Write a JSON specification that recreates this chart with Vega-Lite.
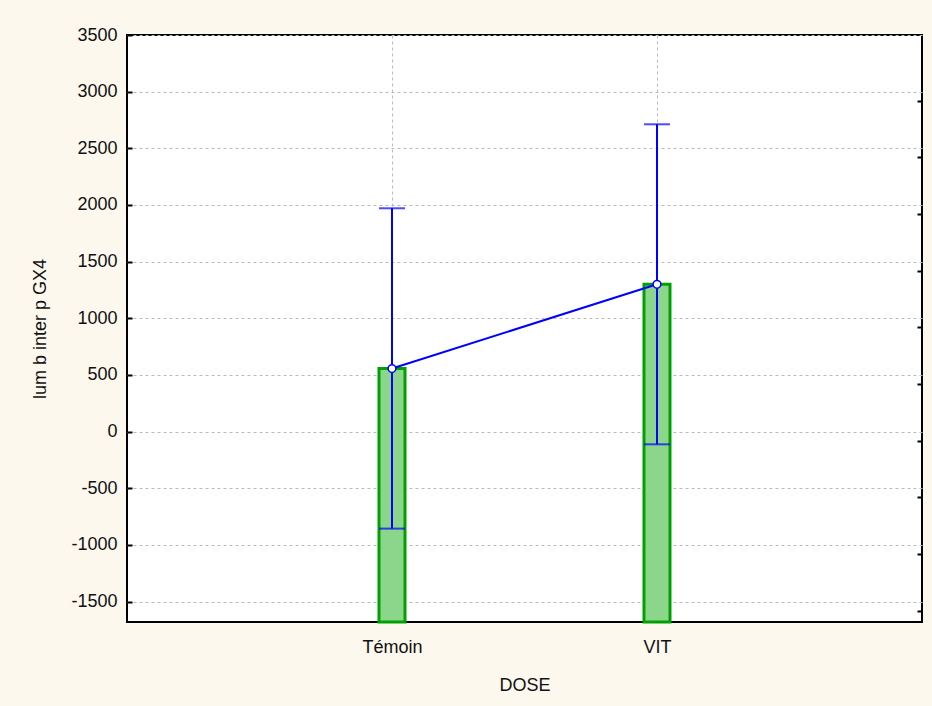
{
  "$schema": "https://vega.github.io/schema/vega-lite/v6.json",
  "width": 795,
  "height": 587,
  "autosize": {"type": "none"},
  "padding": {"left": 127, "top": 35, "right": 10, "bottom": 84},
  "background": "#FDF8EE",
  "config": {
    "view": {"stroke": "#000000", "strokeWidth": 2, "fill": "#FFFFFF"},
    "font": "Liberation Sans",
    "axis": {"labelFont": "Liberation Sans", "titleFont": "Liberation Sans", "labelColor": "#111111", "titleColor": "#111111", "titleFontWeight": "normal", "labelFontSize": 18, "titleFontSize": 18}
  },
  "data": {"values": [
    {"DOSE": "Témoin", "mean": 557, "lo": -856, "hi": 1971},
    {"DOSE": "VIT", "mean": 1300, "lo": -112, "hi": 2712}
  ]},
  "resolve": {"axis": {"y": "independent"}},
  "encoding": {
    "x": {"field": "DOSE", "type": "nominal", "sort": ["Témoin", "VIT"],
      "scale": {"type": "point", "padding": 1},
      "axis": {"title": "DOSE", "labelAngle": 0, "tickSize": -5, "tickColor": "#000000", "tickWidth": 1.5, "domain": false, "labelPadding": 21, "titlePadding": 20,
        "grid": true, "gridColor": "#BBBBBB", "gridDash": [3, 3], "gridWidth": 1}}
  },
  "layer": [
    {
      "mark": {"type": "bar", "width": 26, "fill": "#8CD68C", "stroke": "#00A000", "strokeWidth": 3},
      "encoding": {
        "y": {"field": "mean", "type": "quantitative",
          "scale": {"domain": [-1680, 3500], "nice": false, "zero": false},
          "axis": {"title": "lum b inter p GX4", "values": [-1500, -1000, -500, 0, 500, 1000, 1500, 2000, 2500, 3000, 3500],
            "labelExpr": "datum.value + ''",
            "tickSize": -5, "tickColor": "#000000", "tickWidth": 2, "domain": false,
            "labelPadding": 15, "titlePadding": 21, "grid": true, "gridColor": "#BBBBBB", "gridDash": [3, 3], "gridWidth": 1}},
        "y2": {"datum": -1680}
      }
    },
    {
      "mark": {"type": "rule", "color": "#0000FF", "strokeWidth": 2},
      "encoding": {
        "y": {"field": "lo", "type": "quantitative",
          "axis": {"orient": "right", "title": null, "labels": false, "grid": false, "domain": false, "tickSize": -5, "tickColor": "#000000", "tickWidth": 2, "tickOffset": 9,
            "values": [-1500, -1000, -500, 0, 500, 1000, 1500, 2000, 2500, 3000]}},
        "y2": {"field": "hi"}
      }
    },
    {
      "mark": {"type": "tick", "color": "#0000FF", "size": 26, "thickness": 2},
      "encoding": {"y": {"field": "hi", "type": "quantitative", "axis": null}}
    },
    {
      "mark": {"type": "tick", "color": "#0000FF", "size": 26, "thickness": 2},
      "encoding": {"y": {"field": "lo", "type": "quantitative", "axis": null}}
    },
    {
      "mark": {"type": "line", "color": "#0000FF", "strokeWidth": 2},
      "encoding": {"y": {"field": "mean", "type": "quantitative", "axis": null}}
    },
    {
      "mark": {"type": "point", "filled": true, "fill": "#FFFFFF", "stroke": "#0000FF", "strokeWidth": 1.5, "size": 60, "opacity": 1},
      "encoding": {"y": {"field": "mean", "type": "quantitative", "axis": null}}
    }
  ]
}
